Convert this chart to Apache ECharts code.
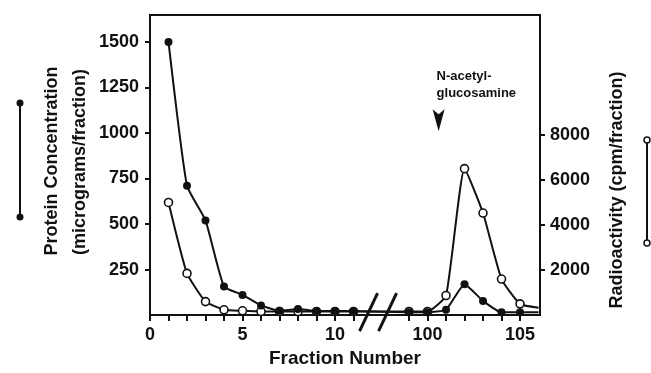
<!DOCTYPE html>
<html>
<head>
<meta charset="utf-8">
<script src="https://cdn.jsdelivr.net/npm/echarts@6/dist/echarts.min.js"></script>
<style>
  html, body { margin: 0; padding: 0; background: #fff; }
  #main { width: 651px; height: 373px; }
</style>
</head>
<body>
<div id="main"></div>
<script>
// fractions collected (the axis is broken between 11 and 99)
var fractions = [1, 2, 3, 4, 5, 6, 7, 8, 9, 10, 11, 99, 100, 101, 102, 103, 104, 105, 106];
// protein, micrograms/fraction (filled circles, left axis)
var protein = [1500, 710, 520, 157, 111, 53, 24, 33, 22, 22, 22, 16, 16, 29, 170, 78, 16, 16, 16];
// radioactivity, cpm/fraction (open circles, right axis)
var radio = [5000, 1850, 600, 235, 190, 160, 160, 160, 160, 160, 160, 160, 160, 870, 6500, 4530, 1600, 500, 330];

var xTickLabels = [0, 5, 10, 100, 105];
var xTicks = [0, 1, 2, 3, 4, 5, 6, 7, 8, 9, 10, 11, 99, 100, 101, 102, 103, 104, 105];
var leftTicks = [250, 500, 750, 1000, 1250, 1500];
var rightTicks = [2000, 4000, 6000, 8000];

var BREAK_FROM = 98, BREAK_SHIFT = 85;   // 99 sits 3 units after 11 on the drawn axis
var arrowAt = 100.6;

var FONT = '"Liberation Sans", Arial, sans-serif';
var INK = '#111';

function axisPos(f) { return f >= BREAK_FROM ? f - BREAK_SHIFT : f; }
function axisLabelOf(v) { return String(v > 12 ? v + BREAK_SHIFT : v); }
function plain(v) { return String(v); }

var chart = echarts.init(document.getElementById('main'));

function lineData(vals) {
    return fractions.map(function (f, i) {
        var item = { value: [axisPos(f), vals[i]] };
        if (f > 105) item.symbol = 'none';
        return item;
    });
}

var labelStyle = { color: INK, fontFamily: FONT, fontWeight: 'bold', fontSize: 18 };
var tickStyle = { color: INK, width: 2 };

chart.setOption({
    animation: false,
    grid: { left: 150, right: 111, top: 15, bottom: 56, show: true, borderColor: INK, borderWidth: 2 },
    xAxis: {
        type: 'value',
        min: 0,
        max: 21.08,
        name: 'Fraction Number',
        nameLocation: 'middle',
        nameGap: 33,
        nameTextStyle: { color: INK, fontFamily: FONT, fontWeight: 'bold', fontSize: 19 },
        splitLine: { show: false },
        axisLine: { lineStyle: { color: INK, width: 2 } },
        axisTick: { show: true, length: 6, lineStyle: tickStyle, customValues: xTicks.map(axisPos) },
        axisLabel: Object.assign({
            margin: 11,
            customValues: xTickLabels.map(axisPos),
            formatter: axisLabelOf
        }, labelStyle)
    },
    yAxis: [{
        type: 'value',
        min: 0,
        max: 1648,
        position: 'left',
        splitLine: { show: false },
        axisLine: { show: true, lineStyle: { color: INK, width: 2 } },
        axisTick: { show: true, length: 5, lineStyle: tickStyle, customValues: leftTicks },
        axisLabel: Object.assign({ margin: 11, customValues: leftTicks, formatter: plain }, labelStyle)
    }, {
        type: 'value',
        min: 0,
        max: 13320,
        position: 'right',
        splitLine: { show: false },
        axisLine: { show: true, lineStyle: { color: INK, width: 2 } },
        axisTick: { show: true, length: 5, lineStyle: tickStyle, customValues: rightTicks },
        axisLabel: Object.assign({ margin: 10, customValues: rightTicks, formatter: plain }, labelStyle)
    }],
    series: [{
        name: 'Radioactivity',
        type: 'line',
        yAxisIndex: 1,
        data: lineData(radio),
        smooth: 0.15,
        symbol: 'circle',
        symbolSize: 8,
        itemStyle: { color: '#fff', borderColor: INK, borderWidth: 1.6 },
        lineStyle: { color: INK, width: 2 },
        z: 2
    }, {
        name: 'Protein',
        type: 'line',
        yAxisIndex: 0,
        data: lineData(protein),
        smooth: 0.15,
        symbol: 'circle',
        symbolSize: 8,
        itemStyle: { color: INK },
        lineStyle: { color: INK, width: 2 },
        z: 3
    }]
});

// decorations: break marks, arrow, titles and line keys
var base = chart.convertToPixel({ xAxisIndex: 0, yAxisIndex: 0 }, [12.3, 0]);
var arrow = chart.convertToPixel({ xAxisIndex: 0, yAxisIndex: 0 }, [axisPos(arrowAt), 1070]);

function slash(dx) {
    return {
        type: 'line',
        shape: { x1: base[0] + dx - 9, y1: base[1] + 16, x2: base[0] + dx + 9, y2: base[1] - 22 },
        style: { stroke: INK, lineWidth: 3 },
        z: 10
    };
}
function txt(x, y, text, size, rot) {
    return {
        type: 'text', x: x, y: y, rotation: rot || 0,
        style: { text: text, align: 'center', verticalAlign: 'middle', fill: INK,
                 font: 'bold ' + size + 'px ' + FONT },
        z: 10
    };
}

chart.setOption({
    graphic: [
        slash(-9), slash(10),
        {
            type: 'polygon',
            shape: { points: [[arrow[0] - 6, arrow[1] - 11], [arrow[0], arrow[1] - 6], [arrow[0] + 6, arrow[1] - 11], [arrow[0], arrow[1] + 11]] },
            style: { fill: INK }
        },
        {
            type: 'text', x: arrow[0] - 2, y: arrow[1] - 35,
            style: { text: 'N-acetyl-\nglucosamine', align: 'left', verticalAlign: 'middle', fill: INK,
                     font: 'bold 13px ' + FONT, lineHeight: 17 }
        },
        txt(52, 161, 'Protein Concentration', 18, Math.PI / 2),
        txt(80, 162, '(micrograms/fraction)', 18, Math.PI / 2),
        txt(617, 190, 'Radioactivity (cpm/fraction)', 18, Math.PI / 2),
        { type: 'line', shape: { x1: 20, y1: 103, x2: 20, y2: 217 }, style: { stroke: INK, lineWidth: 2 } },
        { type: 'circle', shape: { cx: 20, cy: 103, r: 3.5 }, style: { fill: INK } },
        { type: 'circle', shape: { cx: 20, cy: 217, r: 3.5 }, style: { fill: INK } },
        { type: 'line', shape: { x1: 647, y1: 140, x2: 647, y2: 243 }, style: { stroke: INK, lineWidth: 2 } },
        { type: 'circle', shape: { cx: 647, cy: 140, r: 3 }, style: { fill: '#fff', stroke: INK, lineWidth: 1.5 } },
        { type: 'circle', shape: { cx: 647, cy: 243, r: 3 }, style: { fill: '#fff', stroke: INK, lineWidth: 1.5 } }
    ]
});
</script>
</body>
</html>
